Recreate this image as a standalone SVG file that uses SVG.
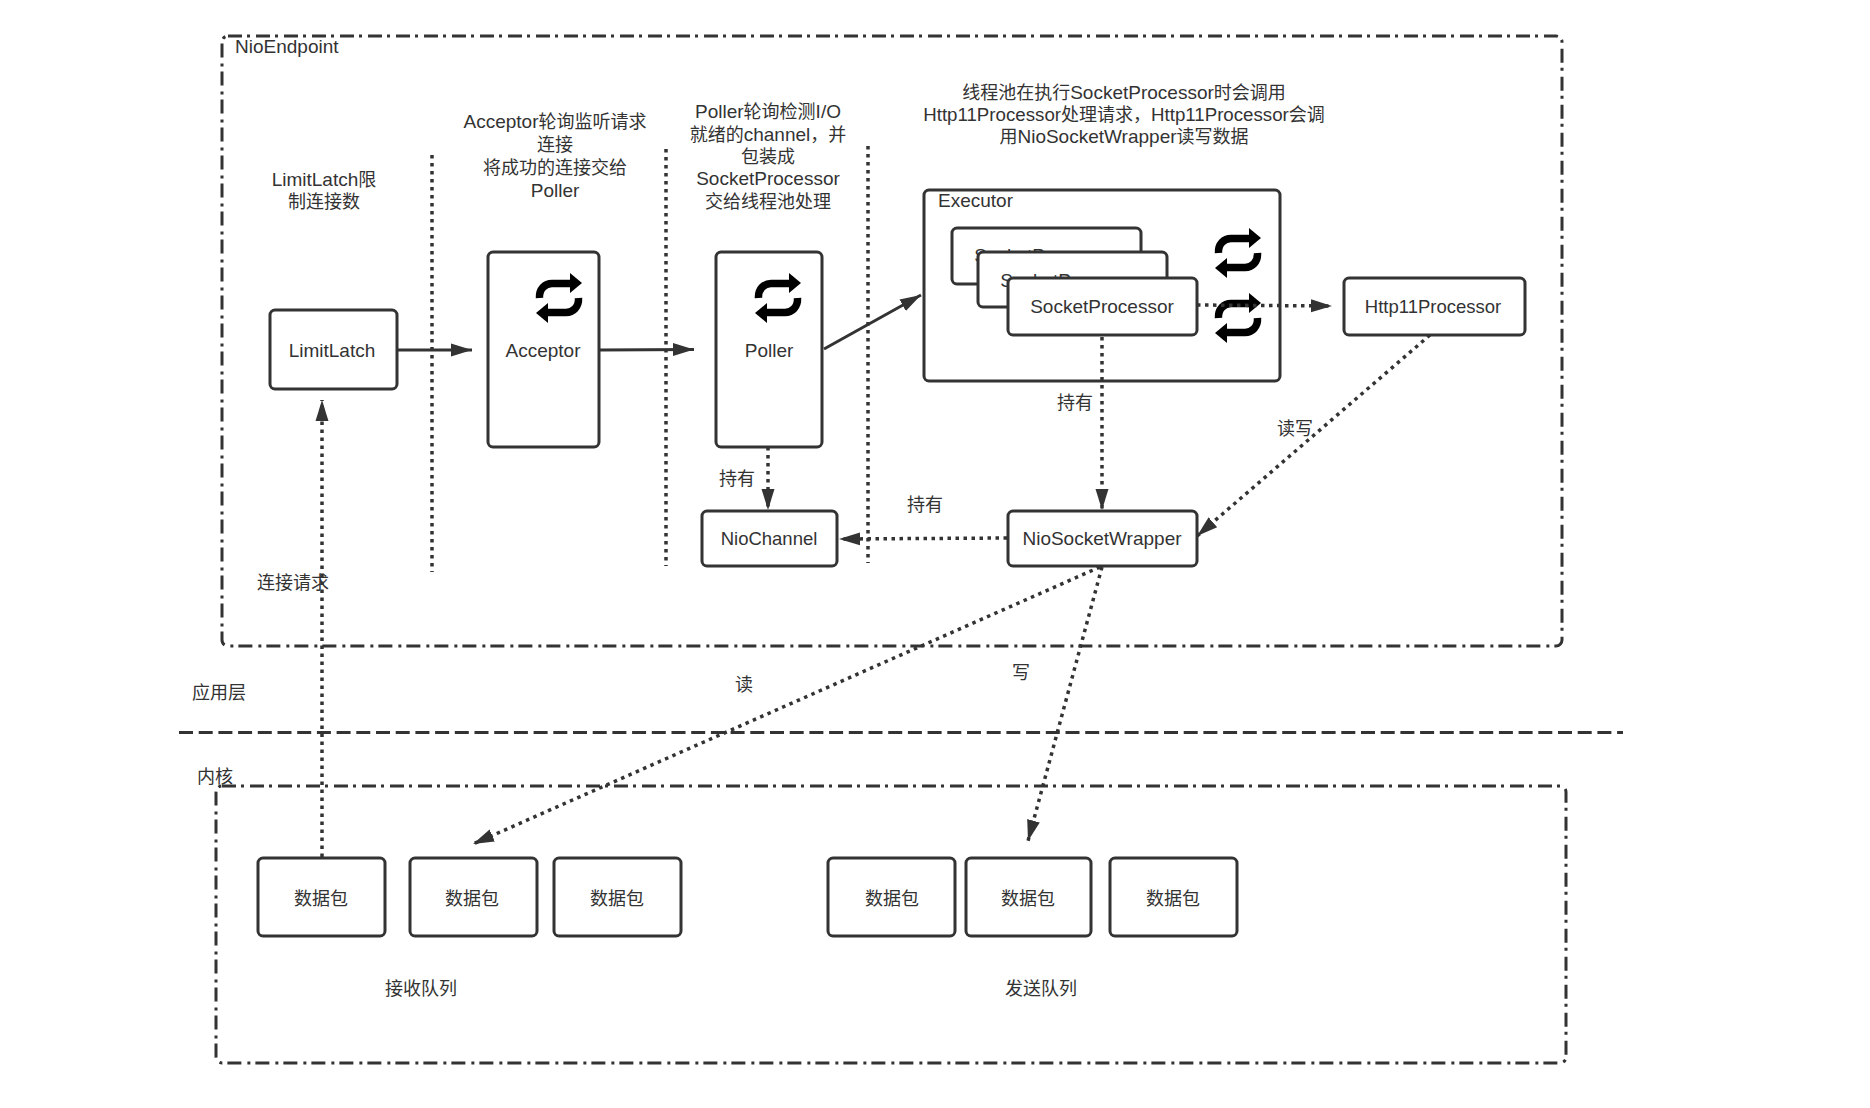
<svg xmlns="http://www.w3.org/2000/svg" width="1870" height="1108" viewBox="0 0 1870 1108">
<style>
text{font-family:"Liberation Sans","Noto Sans CJK SC",sans-serif;font-size:19px;fill:#333;text-anchor:middle}
tspan,.c{font-size:18px}
.l{text-anchor:start}
.box{fill:#fff;stroke:#333;stroke-width:3}
.frame{fill:none;stroke:#333;stroke-width:3;stroke-dasharray:14 5 3 6}
.solid,.dot{fill:none;stroke:#333;stroke-width:3}
.dot{stroke-dasharray:3.500 4.500;stroke-width:3.500}
.sep{fill:none;stroke:#333;stroke-width:3.500;stroke-dasharray:3.500 4.500}
</style>
<defs>
<marker id="ah" markerUnits="userSpaceOnUse" markerWidth="22" markerHeight="16" refX="21" refY="8" orient="auto"><path d="M0 1.500L21 8L0 14.500Z" fill="#333"/></marker>
<g id="repeat">
<path d="M-19.5 0C-20 -9 -14 -14.500 -7 -14.500H12" fill="none" stroke="#000" stroke-width="7.500"/>
<path d="M11 -25L23 -15L11 -5Z" fill="#000"/>
<path d="M19.500 0C20 9 14 14.500 7 14.500H-12" fill="none" stroke="#000" stroke-width="7.500"/>
<path d="M-11 25L-23 15L-11 5Z" fill="#000"/>
</g>
</defs>
<rect width="1870" height="1108" fill="#fff"/>
<g id="nio-endpoint"><rect class="frame" x="222" y="36" width="1340" height="610" rx="6"/><text class="l" x="235" y="53">NioEndpoint</text></g>
<g id="kernel-frame"><rect class="frame" x="216" y="786" width="1350" height="277" rx="6"/></g>
<g id="layer-line"><path d="M179 732.500H1623" fill="none" stroke="#333" stroke-width="3" stroke-dasharray="14 5.700"/></g>
<g id="separators">
<path class="sep" d="M432 155V572"/><path class="sep" d="M666 149V566"/><path class="sep" d="M868 146V563"/>
</g>
<g id="executor"><rect class="box" x="924" y="190" width="356" height="191" rx="5"/><text class="l" x="938" y="207">Executor</text></g>
<g id="socket-processor-1"><rect class="box" x="952" y="228" width="189" height="56" rx="5"/><text x="1046" y="262">SocketProcessor</text></g>
<g id="socket-processor-2"><rect class="box" x="978" y="252" width="189" height="55" rx="5"/><text x="1072" y="287">SocketProcessor</text></g>
<g id="socket-processor-3"><rect class="box" x="1008" y="278" width="189" height="57" rx="5"/><text x="1102" y="313">SocketProcessor</text></g>
<g id="limit-latch"><rect class="box" x="270" y="310" width="127" height="79" rx="5"/><text x="332" y="357">LimitLatch</text></g>
<g id="acceptor"><rect class="box" x="488" y="252" width="111" height="195" rx="5"/><use href="#repeat" x="559" y="298"/><text x="543" y="357">Acceptor</text></g>
<g id="poller"><rect class="box" x="716" y="252" width="106" height="195" rx="5"/><use href="#repeat" x="778" y="298"/><text x="769" y="357">Poller</text></g>
<g id="http11-processor"><rect class="box" x="1344" y="278" width="181" height="57" rx="5"/><text x="1433" y="313" style="font-size:18.500px">Http11Processor</text></g>
<g id="nio-socket-wrapper"><rect class="box" x="1008" y="511" width="189" height="55" rx="5"/><text x="1102" y="545">NioSocketWrapper</text></g>
<g id="nio-channel"><rect class="box" x="702" y="511" width="135" height="55" rx="5"/><text x="769" y="545" style="font-size:18.500px">NioChannel</text></g>
<g id="packet-1"><rect class="box" x="258" y="858" width="127" height="78" rx="5"/><text class="c" x="321" y="905">数据包</text></g>
<g id="packet-2"><rect class="box" x="410" y="858" width="127" height="78" rx="5"/><text class="c" x="472" y="905">数据包</text></g>
<g id="packet-3"><rect class="box" x="554" y="858" width="127" height="78" rx="5"/><text class="c" x="617" y="905">数据包</text></g>
<g id="packet-4"><rect class="box" x="828" y="858" width="127" height="78" rx="5"/><text class="c" x="892" y="905">数据包</text></g>
<g id="packet-5"><rect class="box" x="966" y="858" width="125" height="78" rx="5"/><text class="c" x="1028" y="905">数据包</text></g>
<g id="packet-6"><rect class="box" x="1110" y="858" width="127" height="78" rx="5"/><text class="c" x="1173" y="905">数据包</text></g>
<g id="workers"><use href="#repeat" x="1238" y="253"/><use href="#repeat" x="1238" y="318"/></g>
<g id="connectors">
<path class="solid" d="M397 350H472" marker-end="url(#ah)"/>
<path class="solid" d="M600 350L694 349.500" marker-end="url(#ah)"/>
<path class="solid" d="M824 349L921 295" marker-end="url(#ah)"/>
<path class="dot" d="M1197 305L1332 306" marker-end="url(#ah)"/>
<path class="dot" d="M1102 337V510" marker-end="url(#ah)"/>
<path class="dot" d="M1430 335L1197 536" marker-end="url(#ah)"/>
<path class="dot" d="M1007 538L839 539" marker-end="url(#ah)"/>
<path class="dot" d="M768 447V510" marker-end="url(#ah)"/>
<path class="dot" d="M1100 567L473 844" marker-end="url(#ah)"/>
<path class="dot" d="M1102 567L1028 841" marker-end="url(#ah)"/>
<path class="dot" d="M322 857V400" marker-end="url(#ah)"/>
</g>
<g id="labels">
<text x="324" y="186">LimitLatch<tspan>限</tspan></text><text class="c" x="324" y="208">制连接数</text>
<text x="555" y="128">Acceptor<tspan>轮询监听请求</tspan></text><text class="c" x="555" y="151">连接</text><text class="c" x="555" y="174">将成功的连接交给</text><text x="555" y="197">Poller</text>
<text x="768" y="118">Poller<tspan>轮询检测</tspan>I/O</text><text x="768" y="141"><tspan>就绪的</tspan>channel<tspan>，并</tspan></text><text class="c" x="768" y="163">包装成</text><text x="768" y="185">SocketProcessor</text><text class="c" x="768" y="208">交给线程池处理</text>
<text x="1124" y="99"><tspan>线程池在执行</tspan>SocketProcessor<tspan>时会调用</tspan></text><text x="1124" y="121" style="font-size:18.700px">Http11Processor<tspan>处理请求，</tspan>Http11Processor<tspan>会调</tspan></text><text x="1124" y="143"><tspan>用</tspan>NioSocketWrapper<tspan>读写数据</tspan></text>
<g class="c"><text class="c" x="1075" y="409">持有</text><text class="c" x="1295" y="435">读写</text><text class="c" x="737" y="485">持有</text><text class="c" x="925" y="511">持有</text>
<text class="c" x="293" y="589">连接请求</text><text class="c" x="219" y="699">应用层</text><text class="c" x="215" y="783">内核</text>
<text class="c" x="744" y="691">读</text><text class="c" x="1021" y="679">写</text>
<text class="c" x="421" y="995">接收队列</text><text class="c" x="1041" y="995">发送队列</text></g>
</g>
</svg>
